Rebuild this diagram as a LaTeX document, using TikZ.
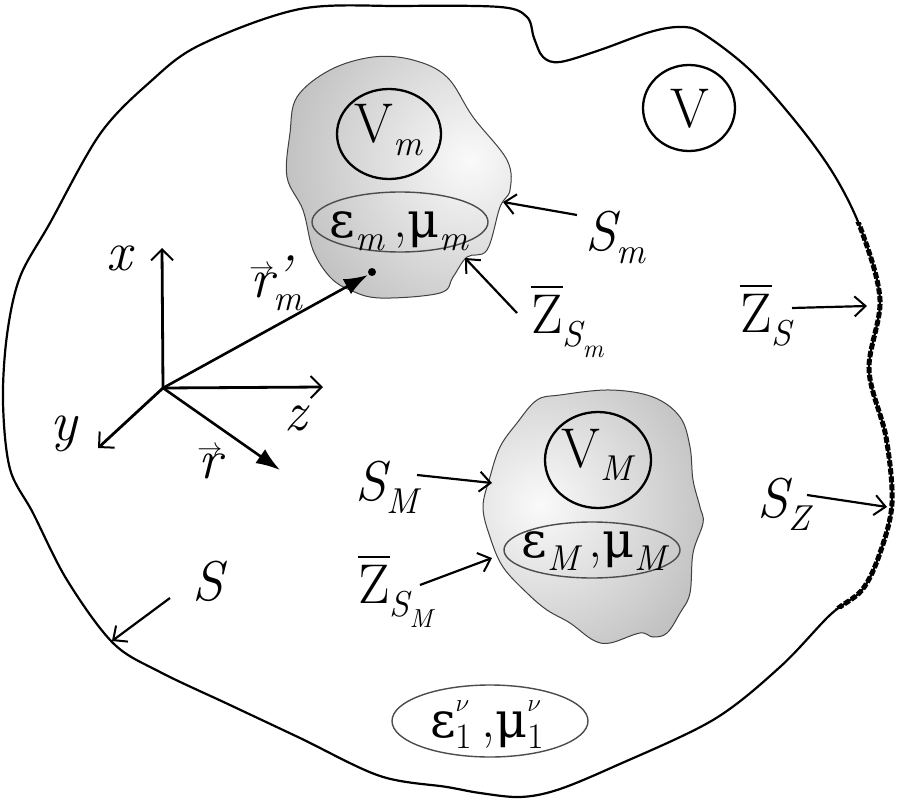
\documentclass[tikz,border=0pt]{standalone}
\usepackage{fontspec}
\newfontfamily\grk{DejaVu Serif}[Scale=0.88]
\usetikzlibrary{arrows.meta,shapes.geometric}

\newcommand\lowsub[1]{\raisebox{-0.24em}{\fontsize{36}{36}\selectfont\itshape #1}}
\newcommand\ssub[1]{\raisebox{-0.3em}{\fontsize{26}{26}\selectfont\itshape #1}}
\newcommand\zbar{\ooalign{Z\cr\hidewidth\rule[0.80em]{0.56em}{0.045em}\hidewidth\cr}}
\newcommand\vecr{\ooalign{\itshape r\cr\hidewidth\raisebox{0.40em}{\fontsize{30}{30}\selectfont$\rightarrow$}\hidewidth\cr}}
\newcommand\supsubx[2]{\rlap{\raisebox{0.45em}{\fontsize{32}{32}\selectfont$\nu$}}\raisebox{-0.2em}{\fontsize{36}{36}\selectfont #2}}
\newcommand\eps{{\grk ε}}
\newcommand\mus{{\grk μ}}

\def\outerpts{plot[smooth cycle,tension=0.55] coordinates {
 (300,9) (402,6) (500,7) (527,17) (534,38) (543,57) (560,62) (600,50) (650,32)
 (680,27) (702,33) (750,70) (800,127) (836,178) (862,232) (880,300) (869,370)
 (886,437) (892,503) (880,553) (862,590) (830,615) (780,667) (713,720) (613,767)
 (557,790) (520,797) (480,793) (447,787) (380,776) (300,738) (230,705) (160,672)
 (113,643) (67,580) (33,513) (10,469) (3,402) (7,335) (20,277) (50,223) (100,134)
 (150,82) (200,45)}}

\def\blobmpts{plot[smooth cycle,tension=0.6] coordinates {
 (290,133) (297,97) (330,70) (373,57) (413,60) (447,77) (473,117) (507,160)
 (510,190) (500,207) (487,250) (467,257) (453,277) (440,293) (380,298) (350,290)
 (330,277) (313,250) (303,210) (287,177)}}

\def\blobMpts{plot[smooth cycle,tension=0.6] coordinates {
 (517,423) (537,400) (560,395) (610,390) (653,397) (680,417) (690,447) (693,480)
 (700,507) (703,523) (693,553) (690,593) (680,613) (667,633) (653,637) (640,633)
 (610,643) (593,640) (570,623) (547,610) (527,593) (503,567) (490,537) (483,507)
 (490,477) (500,447)}}

\tikzset{
  lab/.style={font=\fontsize{56}{60}\selectfont, inner sep=0pt},
  axis/.style={line width=2.8pt, -{Straight Barb[length=11pt,width=22pt,line width=2pt]}},
  vecarrow/.style={line width=2.6pt, -{Latex[length=24pt,width=17pt]}},
  lblarrow/.style={line width=2.2pt, -{Straight Barb[length=11pt,width=20pt,line width=2pt]}},
  vring/.style={draw=black, line width=2.3pt, ellipse, inner sep=0pt},
  ering/.style={draw=black!70, line width=1.4pt, ellipse, inner sep=0pt},
  blobline/.style={draw=black!75, line width=1pt},
}

\begin{document}
\begin{tikzpicture}[x=1pt,y=-1pt]
\useasboundingbox (0,0) rectangle (900,800);
\fill[white] (0,0) rectangle (900,800);

% outer boundary
\draw[line width=2.2pt, line join=round] \outerpts;
\begin{scope}
  \clip (835,222) rectangle (900,608);
  \draw[line width=5pt, dash pattern=on 6pt off 2pt] \outerpts;
\end{scope}

% blob m
\fill[black!26] \blobmpts;
\begin{scope}
  \clip \blobmpts;
  \shade[inner color=black!2, outer color=black!26] (470,160) circle (200);
\end{scope}
\draw[blobline] \blobmpts;

% blob M
\fill[black!26] \blobMpts;
\begin{scope}
  \clip \blobMpts;
  \shade[inner color=black!2, outer color=black!26] (540,505) circle (190);
\end{scope}
\draw[blobline] \blobMpts;

% rings
\node[vring, minimum width=92pt, minimum height=86pt] (Vring) at (689,108) {};
\node[lab, anchor=base] (Vtxt) at (690,128) {V};

\node[vring, minimum width=104pt, minimum height=90pt] (Vmring) at (389,134) {};
\node[lab, anchor=base] (Vmtxt) at (388,142) {V\lowsub{m}};

\node[ering, minimum width=176pt, minimum height=60pt] (emring) at (400,222) {};
\node[lab, anchor=base] (emtxt) at (399,237) {\eps\lowsub{m}\,,\mus\lowsub{m}};

\node[vring, minimum width=106pt, minimum height=96pt] (VMring) at (598,460) {};
\node[lab, anchor=base] (VMtxt) at (597,467) {V\lowsub{M}};

\node[ering, minimum width=176pt, minimum height=56pt] (eMring) at (592,550) {};
\node[lab, anchor=base] (eMtxt) at (594,557) {\eps\lowsub{M}\,,\mus\lowsub{M}};

\node[ering, minimum width=196pt, minimum height=72pt] (e1ring) at (490,721) {};
\node[lab, anchor=base] (e1txt) at (487,737) {\eps\supsubx{ν}{1}\,,\mus\supsubx{ν}{1}};

% coordinate system
\coordinate (O) at (163,388);
\coordinate (xend) at (162,248);
\coordinate (zend) at (323,387);
\coordinate (yend) at (98,448);
\coordinate (rend) at (280,470);
\coordinate (rmend) at (368,275);
\draw[axis] (O) -- (xend);
\draw[axis] (O) -- (zend);
\draw[axis] (O) -- (yend);
\draw[vecarrow] (O) -- (rend);
\draw[vecarrow] (O) -- (rmend);
\fill (372,272) circle (4pt) coordinate (rmdot);

\node[lab, anchor=base west] (xlab) at (106,270) {\itshape x};
\node[lab, anchor=base west] (ylab) at (50,440) {\itshape y};
\node[lab, anchor=base west] (zlab) at (284,430) {\itshape z};
\node[lab, anchor=base west] (rlab) at (198,478) {\vecr};
\node[lab, anchor=base west] (rmlab) at (250,297) {\vecr\rlap{\raisebox{0.05em}{\fontsize{56}{56}\selectfont\itshape\char"2019}}\lowsub{m}};

% labels with arrows
\node[lab, anchor=base west] (Smlab) at (585,250) {\itshape S\lowsub{m}};
\coordinate (aSm1) at (577,215); \coordinate (aSm2) at (503,202);
\draw[lblarrow] (aSm1) -- (aSm2);

\node[lab, anchor=base west] (ZSmlab) at (531,333) {\zbar\lowsub{S\ssub{m}}};
\coordinate (aZm1) at (517,313); \coordinate (aZm2) at (465,258);
\draw[lblarrow] (aZm1) -- (aZm2);

\node[lab, anchor=base west] (SMlab) at (355,500) {\itshape S\lowsub{M}};
\coordinate (aSM1) at (417,475); \coordinate (aSM2) at (492,483);
\draw[lblarrow] (aSM1) -- (aSM2);

\node[lab, anchor=base west] (ZSMlab) at (358,603) {\zbar\lowsub{S\ssub{M}}};
\coordinate (aZM1) at (420,585); \coordinate (aZM2) at (492,558);
\draw[lblarrow] (aZM1) -- (aZM2);

\node[lab, anchor=base west] (ZSlab) at (740,332) {\zbar\lowsub{S}};
\coordinate (aZS1) at (792,308); \coordinate (aZS2) at (867,306);
\draw[lblarrow] (aZS1) -- (aZS2);

\node[lab, anchor=base west] (SZlab) at (757,517) {\itshape S\lowsub{Z}};
\coordinate (aSZ1) at (807,495); \coordinate (aSZ2) at (887,507);
\draw[lblarrow] (aSZ1) -- (aSZ2);

\node[lab, anchor=base west] (Slab) at (192,600) {\itshape S};
\coordinate (aS1) at (170,598); \coordinate (aS2) at (112,641);
\draw[lblarrow] (aS1) -- (aS2);
\end{tikzpicture}
\end{document}
